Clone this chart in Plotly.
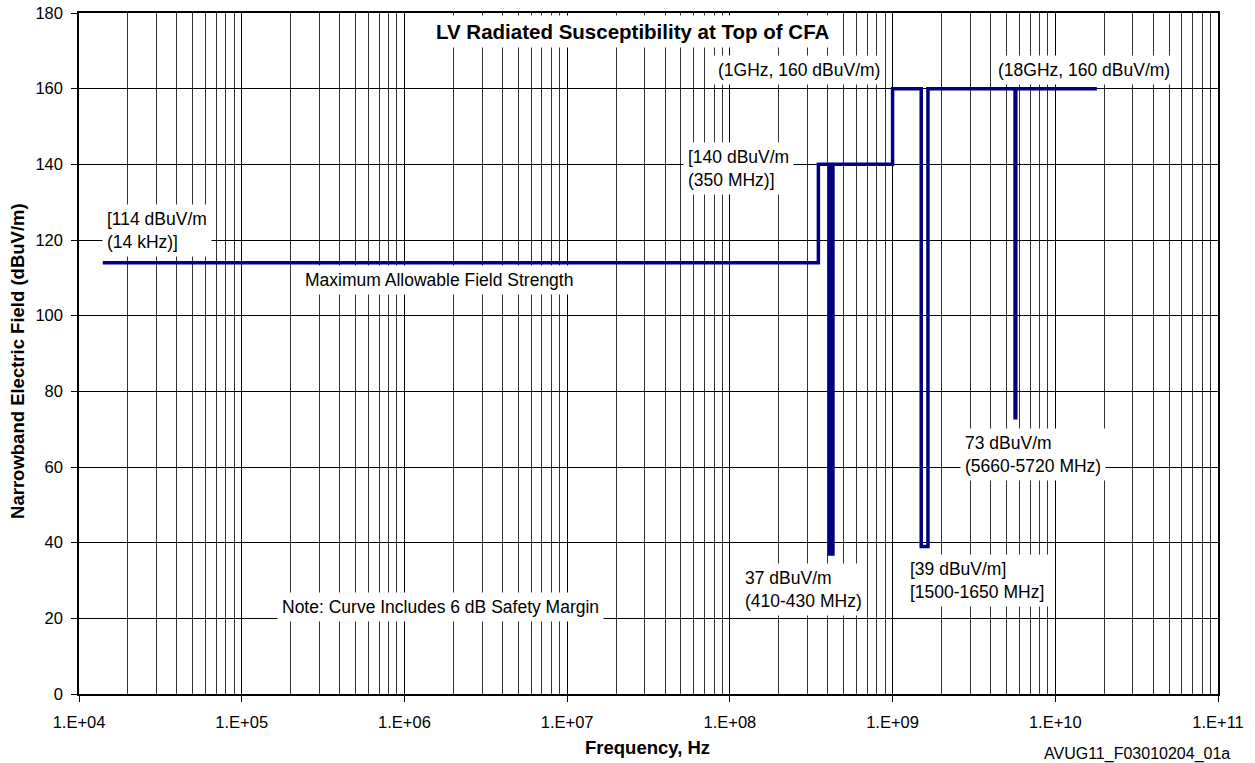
import plotly.graph_objects as go

# ---- data ----
freq_hz = [14e3, 350e6, 350e6, 410e6, 410e6, 430e6, 430e6, 1e9, 1e9,
           1500e6, 1500e6, 1650e6, 1650e6, 5660e6, 5660e6, 5720e6, 5720e6, 18e9]
field_dbuvm = [114, 114, 140, 140, 37, 37, 140, 140, 160,
               160, 39, 39, 160, 160, 73, 73, 160, 160]

x_tick_vals = [1e4, 1e5, 1e6, 1e7, 1e8, 1e9, 1e10, 1e11]
x_tick_text = ["1.E+04", "1.E+05", "1.E+06", "1.E+07", "1.E+08", "1.E+09", "1.E+10", "1.E+11"]
y_tick_vals = [0, 20, 40, 60, 80, 100, 120, 140, 160, 180]

minor_vals = [m * 10 ** d for d in range(4, 11) for m in range(2, 10)]

FONT = "Liberation Sans, Arial, sans-serif"

fig = go.Figure()
fig.add_trace(go.Scatter(
    x=freq_hz, y=field_dbuvm, mode="lines",
    line=dict(color="#000080", width=3.5),
    showlegend=False, hoverinfo="skip",
))

annots = [
    dict(text="<b>LV Radiated Susceptibility at Top of CFA</b>", x=0.486, y=0.973,
         xanchor="center", font=dict(size=20.5)),
    dict(text="[114 dBuV/m<br>(14 kHz)]", x=0.020, y=0.681, xanchor="left", align="left"),
    dict(text="Maximum Allowable Field Strength", x=0.316, y=0.608, xanchor="center"),
    dict(text="[140 dBuV/m<br>(350 MHz)]", x=0.530, y=0.771, xanchor="left", align="left"),
    dict(text="(1GHz, 160 dBuV/m)", x=0.632, y=0.916, xanchor="center"),
    dict(text="(18GHz, 160 dBuV/m)", x=0.882, y=0.916, xanchor="center"),
    dict(text="73 dBuV/m<br>(5660-5720 MHz)", x=0.7735, y=0.351, xanchor="left", align="left"),
    dict(text="[39 dBuV/m]<br>[1500-1650 MHz]", x=0.725, y=0.167, xanchor="left", align="left"),
    dict(text="37 dBuV/m<br>(410-430 MHz)", x=0.580, y=0.153, xanchor="left", align="left"),
    dict(text="Note: Curve Includes 6 dB Safety Margin", x=0.317, y=0.128, xanchor="center"),
]
for a in annots:
    font = a.pop("font", dict(size=17.5))
    font.update(family=FONT, color="black")
    fig.add_annotation(xref="paper", yref="paper", yanchor="middle", showarrow=False,
                       bgcolor="white", borderpad=4, font=font, **a)

# axis titles and figure id (placed as in the reference)
fig.add_annotation(text="<b>Frequency, Hz</b>", xref="paper", yref="paper",
                   x=0.4987, y=-0.079, xanchor="center", yanchor="middle", showarrow=False,
                   font=dict(family=FONT, size=18.5, color="black"))
fig.add_annotation(text="<b>Narrowband Electric Field (dBuV/m)</b>", xref="paper", yref="paper",
                   x=-0.0536, y=0.489, xanchor="center", yanchor="middle", showarrow=False,
                   textangle=-90, font=dict(family=FONT, size=18.5, color="black"))
fig.add_annotation(text="AVUG11_F03010204_01a", xref="paper", yref="paper",
                   x=1.0123, y=-0.0881, xanchor="right", yanchor="middle", showarrow=False,
                   font=dict(family=FONT, size=16, color="black"))

fig.update_layout(
    width=1255, height=763,
    margin=dict(l=79, r=37, t=13, b=69, autoexpand=False),
    paper_bgcolor="white", plot_bgcolor="white",
    font=dict(family=FONT, size=16.5, color="black"),
    xaxis=dict(
        type="log", range=[4, 11], automargin=False,
        tickvals=x_tick_vals, ticktext=x_tick_text,
        ticks="outside", ticklen=6, tickcolor="black", ticklabelstandoff=6,
        showgrid=True, gridcolor="black", gridwidth=1,
        minor=dict(tickvals=minor_vals, showgrid=True, gridcolor="#333333", gridwidth=1, ticks=""),
        showline=True, linecolor="black", linewidth=1.5, mirror=True,
        zeroline=False,
    ),
    yaxis=dict(
        range=[0, 180], tickvals=y_tick_vals, automargin=False,
        ticks="outside", ticklen=6, tickcolor="black", ticklabelstandoff=5,
        showgrid=True, gridcolor="black", gridwidth=1,
        showline=True, linecolor="black", linewidth=1.5, mirror=True,
        zeroline=False,
    ),
)

fig.write_html("out.html", config={"displayModeBar": False},
               post_script="document.body.style.margin='0px';")
